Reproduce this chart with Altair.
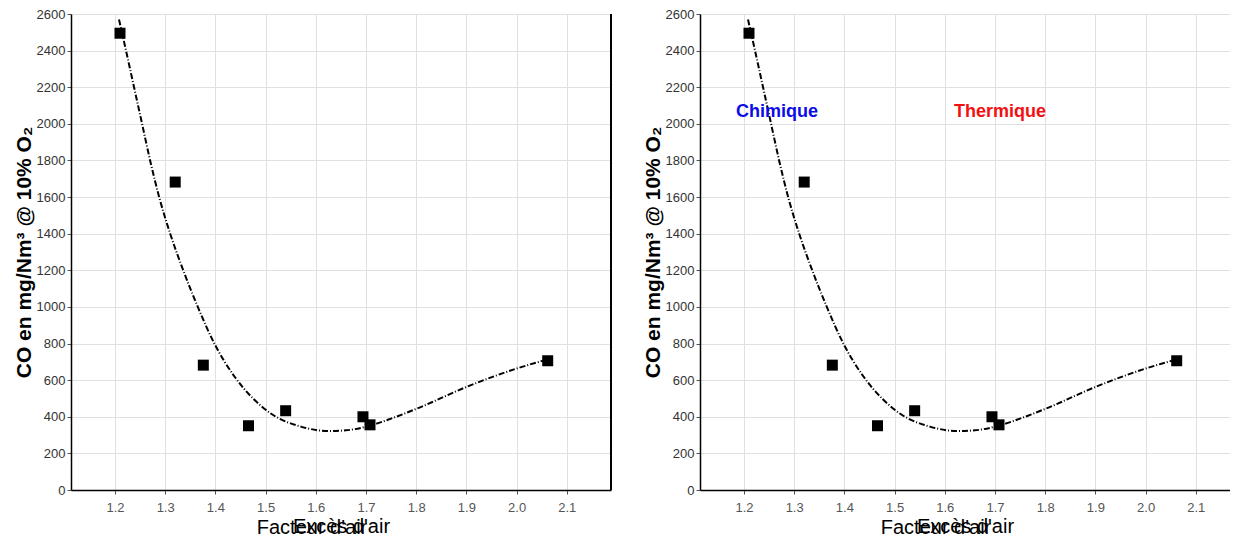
import altair as alt
import pandas as pd

# measured points (Facteur d'air, CO mg/Nm3)
pt_x = [1.21, 1.32, 1.376, 1.466, 1.54, 1.694, 1.708, 2.062]
pt_y = [2495, 1682, 682, 351, 433, 400, 356, 706]

# fitted curve
fit_x = [1.208, 1.222, 1.238, 1.254, 1.27, 1.288, 1.31, 1.336, 1.365, 1.398,
         1.438, 1.475, 1.512, 1.572, 1.626, 1.66, 1.706, 1.75, 1.802, 1.902,
         2.002, 2.06]
fit_y = [2570, 2400, 2200, 2000, 1800, 1600, 1400, 1200, 1000, 800,
         620, 500, 415, 345, 322, 326, 350, 390, 445, 565,
         665, 712]

ann_label = ["Chimique", "Thermique"]
ann_x = [1.266, 1.71]
ann_y = [2065, 2065]
ann_color = ["#0b0be8", "#f21010"]

x_ticks = [1.2, 1.3, 1.4, 1.5, 1.6, 1.7, 1.8, 1.9, 2.0, 2.1]
y_ticks = [0, 200, 400, 600, 800, 1000, 1200, 1400, 1600, 1800, 2000, 2200, 2400, 2600]

FONT = "Liberation Sans"
XMIN = 1.1124
PX_PER_UNIT = 502.0
H = 476

pts = pd.DataFrame({"x": pt_x, "y": pt_y})
fit = pd.DataFrame({"x": fit_x, "y": fit_y})
ann = pd.DataFrame({"label": ann_label, "x": ann_x, "y": ann_y, "color": ann_color})


def panel(width, right_frame, with_ann):
    xmax = XMIN + width / PX_PER_UNIT
    xs = alt.Scale(domain=[XMIN, xmax], nice=False, zero=False)
    ys = alt.Scale(domain=[0, 2600], nice=False, zero=False)
    xaxis = alt.Axis(values=x_ticks, format=".1f", title="Excès d'air",
                     grid=True, titleFontSize=20, titleFontWeight="normal",
                     titleColor="black", titlePadding=2, labelPadding=7,
                     labelColor="#555", labelOverlap=False)
    yaxis = alt.Axis(values=y_ticks, format="d", title="CO en mg/Nm³ @ 10% O₂",
                     grid=True, titleFontSize=21, titleFontWeight="bold",
                     titleColor="black", titlePadding=2, labelPadding=2,
                     labelColor="#333", labelOverlap=False)
    xenc = alt.X("x:Q", scale=xs, axis=xaxis)
    yenc = alt.Y("y:Q", scale=ys, axis=yaxis)
    line = alt.Chart(fit).mark_line(
        color="black", strokeWidth=2, strokeDash=[6, 2, 1, 2],
        interpolate="monotone"
    ).encode(x=xenc, y=yenc)
    sq = alt.Chart(pts).mark_square(size=121, color="black", opacity=1).encode(
        x=xenc, y=yenc
    )
    layers = [line, sq]
    if with_ann:
        txt = alt.Chart(ann).mark_text(
            font=FONT, fontSize=18, fontWeight="bold", align="center",
            baseline="middle"
        ).encode(
            x=xenc, y=yenc, text="label:N",
            color=alt.Color("color:N", scale=None),
        )
        layers.append(txt)
    if right_frame:
        rf = alt.Chart(pts).mark_rule(color="black", strokeWidth=1.5).encode(
            x=alt.datum(xmax, scale=xs),
        )
        layers.append(rf)
    ch = alt.layer(*layers)
    return ch.properties(
        width=width, height=H,
        title=alt.TitleParams("Facteur d'air", orient="bottom", anchor="middle",
                              dx=-29, dy=-18, offset=0, fontSize=20, font=FONT,
                              fontWeight="normal", color="black"),
    )


left = panel(540, True, False)
right = panel(530, False, True)

chart = alt.hconcat(left, right, spacing=30).properties(
    padding={"left": 5, "top": 0, "right": 0, "bottom": 0}
).configure_view(strokeWidth=0).configure_axis(
    labelFont=FONT, titleFont=FONT, labelFontSize=13, tickSize=4,
    tickColor="#555", domainColor="black", domainWidth=1.5,
    gridColor="#e0e0e0", gridWidth=1,
)

chart.save("out.html", embed_options={"renderer": "svg", "actions": False})
